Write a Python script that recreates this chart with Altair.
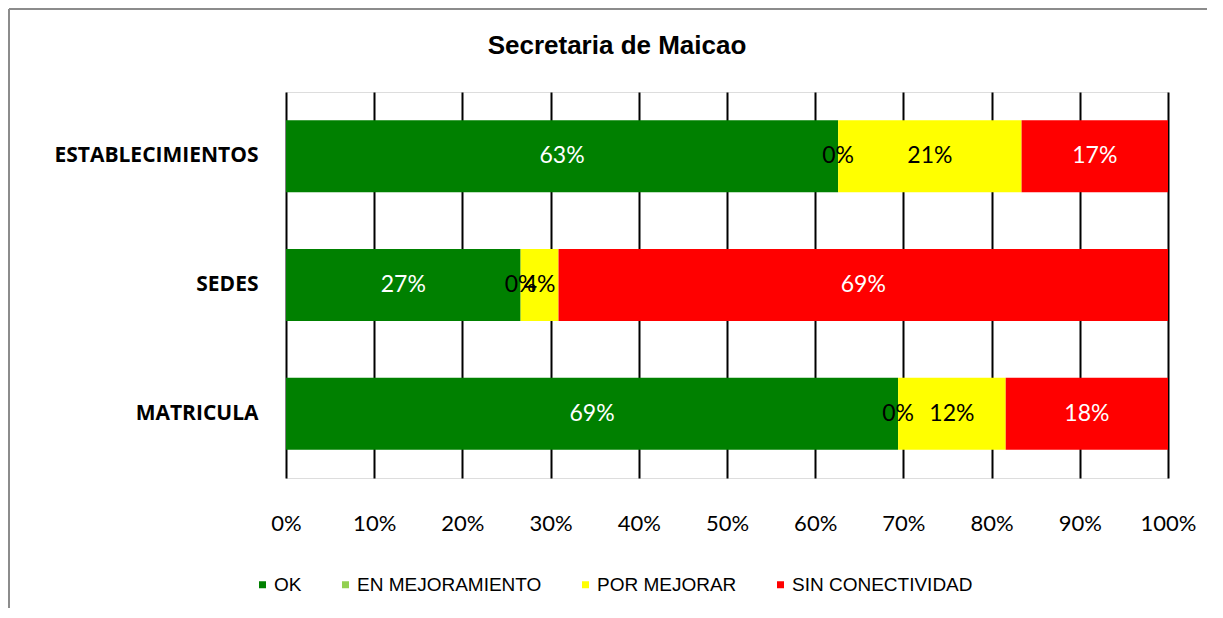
import altair as alt
import pandas as pd

title_text = "Secretaria de Maicao"
categories = ["ESTABLECIMIENTOS", "SEDES", "MATRICULA"]
series = ["OK", "EN MEJORAMIENTO", "POR MEJORAR", "SIN CONECTIVIDAD"]
ok = [0.626, 0.266, 0.694]
en_mejoramiento = [0.0, 0.0, 0.0]
por_mejorar = [0.208, 0.043, 0.122]
sin_conectividad = [0.166, 0.691, 0.184]
colors = ["#008000", "#92D050", "#FFFF00", "#FF0000"]
label_colors = ["white", "black", "black", "white"]
x_ticks = [0.0, 0.1, 0.2, 0.3, 0.4, 0.5, 0.6, 0.7, 0.8, 0.9, 1.0]

rows = []
for s_i, (s, vals) in enumerate(zip(series, [ok, en_mejoramiento, por_mejorar, sin_conectividad])):
    for c, v in zip(categories, vals):
        rows.append({"cat": c, "serie": s, "idx": s_i, "value": v, "lc": label_colors[s_i]})
df = pd.DataFrame(rows)

base = alt.Chart(df).transform_stack(
    stack="value", groupby=["cat"], as_=["x0", "x1"],
    sort=[alt.SortField("idx", order="ascending")]
).transform_calculate(mid="(datum.x0 + datum.x1) / 2")

y_enc = alt.Y(
    "cat:N", sort=categories,
    scale=alt.Scale(paddingInner=0.44, paddingOuter=0.22),
    axis=alt.Axis(title=None, labelFontSize=21, labelFontWeight="bold", labelFont="Open Sans",
                  labelPadding=28, ticks=False, domain=False, labelColor="black",
                  labelLimit=0),
)

x_scale = alt.Scale(domain=[0, 1], nice=False)

bars = base.mark_bar().encode(
    x=alt.X("x0:Q", scale=x_scale,
            axis=alt.Axis(format=".0%", values=x_ticks, grid=True, gridColor="black",
                          gridWidth=2, domain=False, ticks=False, labelPadding=35,
                          labelFontSize=22, labelFont="Lato", labelColor="black",
                          labelFlush=False, title=None)),
    x2="x1:Q",
    y=y_enc,
    color=alt.Color("serie:N", scale=alt.Scale(domain=series, range=colors),
                    legend=alt.Legend(orient="none", legendX=-33, legendY=483,
                                      direction="horizontal", title=None,
                                      symbolType="square", symbolSize=49,
                                      symbolStrokeWidth=0, labelFontSize=19,
                                      labelFont="Liberation Sans", labelColor="black",
                                      labelLimit=0, columnPadding=34, labelOffset=2)),
)

labels = base.mark_text(fontSize=23, font="Lato").encode(
    x=alt.X("mid:Q", scale=x_scale),
    y=alt.Y("cat:N", sort=categories),
    text=alt.Text("value:Q", format=".0%"),
    color=alt.Color("lc:N", scale=None),
)

frame_df = pd.DataFrame({"t": [title_text]})
top_line = alt.Chart(frame_df).mark_rule(color="#8c8c8c", strokeWidth=2).encode(
    x=alt.value(-277), x2=alt.value(1000), y=alt.value(-83)
)
left_line = alt.Chart(frame_df).mark_rule(color="#8c8c8c", strokeWidth=2).encode(
    x=alt.value(-277), y=alt.value(-83), y2=alt.value(600)
)
title = alt.Chart(frame_df).mark_text(
    font="Liberation Sans", fontSize=26, fontWeight="bold", color="black",
    align="center", baseline="middle"
).encode(x=alt.value(331), y=alt.value(-46), text="t:N")

chart = alt.layer(top_line, left_line, title, bars, labels).properties(
    width=882, height=386,
    autosize=alt.AutoSizeParams(type="none"),
    padding={"left": 278, "top": 84, "right": 39, "bottom": 130},
).configure_view(stroke="black", strokeWidth=3).configure(background="white")

chart.save("out.html", embed_options={"renderer": "svg", "actions": False})
